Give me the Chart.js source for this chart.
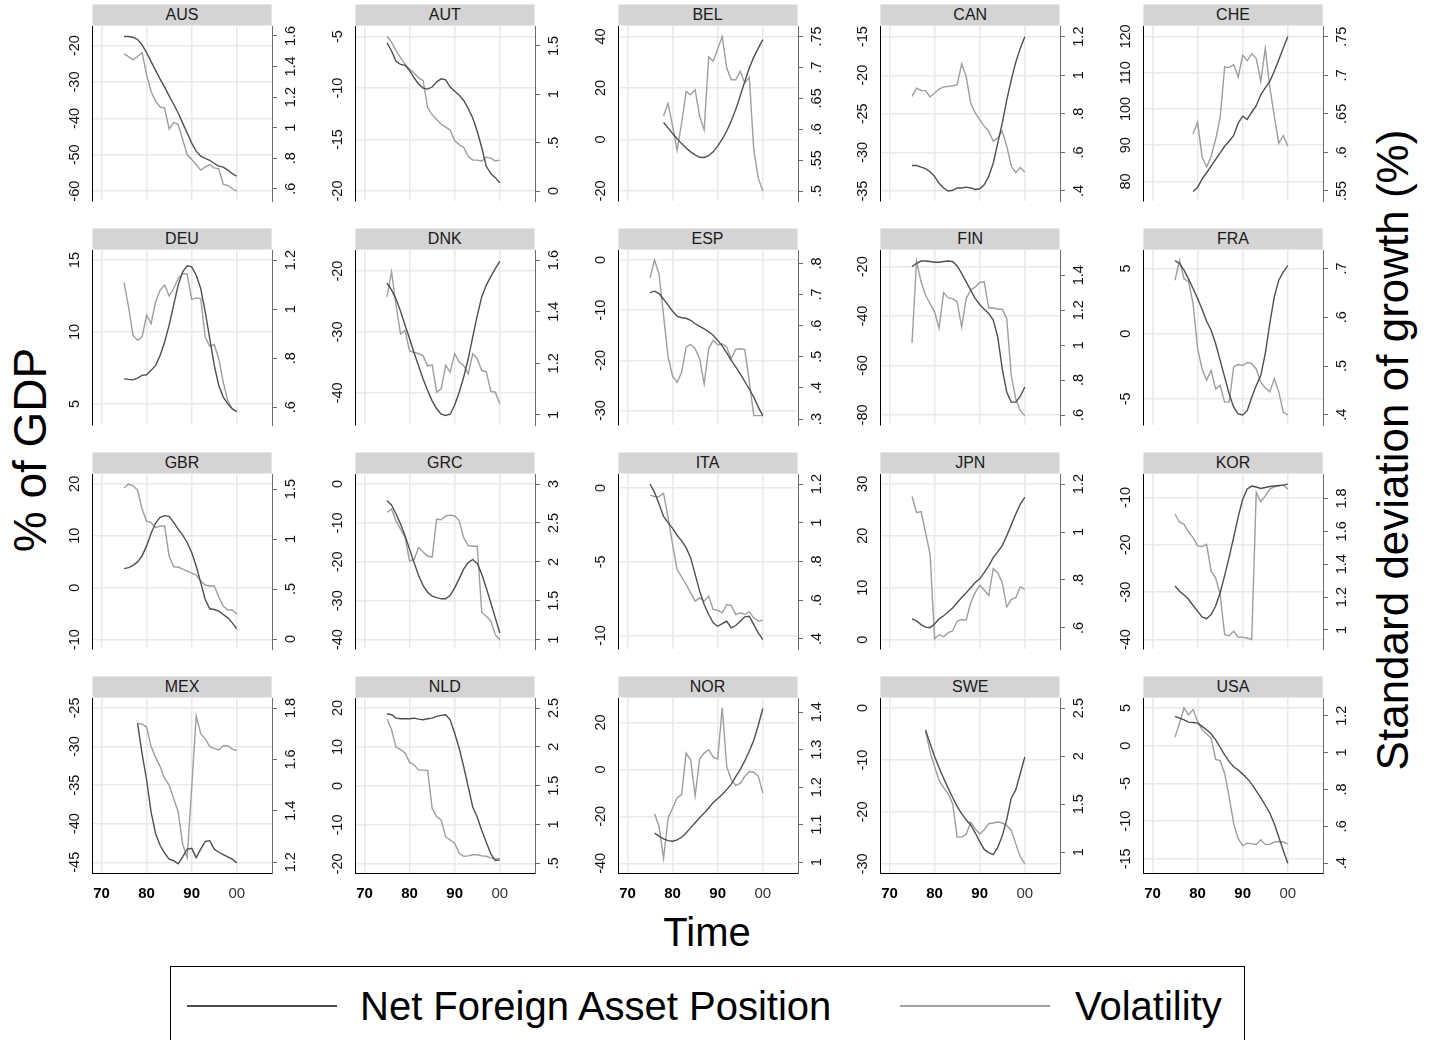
<!DOCTYPE html>
<html>
<head>
<meta charset="utf-8">
<title>Net foreign assets and volatility</title>
<script src="https://cdn.jsdelivr.net/npm/chart.js@4.4.1/dist/chart.umd.min.js"></script>
<style>
  body {
    margin: 0;
    width: 1436px;
    height: 1040px;
    position: relative;
    overflow: hidden;
    background: #fff;
    font-family: "Liberation Sans", Arial, sans-serif;
    color: #000;
  }
  .strip {
    position: absolute;
    height: 22px;
    box-sizing: border-box;
    background: #d4d4d4;
    border: 1px solid #e2ebeb;
    text-align: center;
    font-size: 16px;
    line-height: 20px;
    color: #1a1a1a;
  }
  .panel { position: absolute; }
  .axis-title {
    position: absolute;
    white-space: nowrap;
    line-height: 1;
  }
  .legend {
    position: absolute;
    left: 170px;
    top: 966px;
    width: 1075px;
    height: 90px;
    box-sizing: border-box;
    border: 1.5px solid #000;
  }
  .legend .sample {
    position: absolute;
    height: 2px;
    top: 38px;
  }
  .legend .label {
    position: absolute;
    top: 19px;
    font-size: 40px;
    line-height: 40px;
    white-space: nowrap;
  }
</style>
</head>
<body>

<div class="axis-title" style="left:30px; top:450px; font-size:46px; transform:translate(-50%,-50%) rotate(-90deg);">% of GDP</div>
<div class="axis-title" style="left:1393px; top:450px; font-size:44px; transform:translate(-50%,-50%) rotate(-90deg);">Standard deviation of growth (%)</div>
<div class="axis-title" style="left:707px; top:932px; font-size:40px; transform:translate(-50%,-50%);">Time</div>

<div class="legend">
  <div class="sample" style="left:16px; width:150px; background:#4f4f4f;"></div>
  <div class="label" style="left:189px;">Net Foreign Asset Position</div>
  <div class="sample" style="left:729px; width:150px; background:#a0a0a0;"></div>
  <div class="label" style="left:904px;">Volatility</div>
</div>

<script>
// ===== Datos por país (años start..2000) =====
const countries = ["AUS", "AUT", "BEL", "CAN", "CHE",
                   "DEU", "DNK", "ESP", "FIN", "FRA",
                   "GBR", "GRC", "ITA", "JPN", "KOR",
                   "MEX", "NLD", "NOR", "SWE", "USA"];

const startYear = [1975, 1975, 1978, 1975, 1979,
                   1975, 1975, 1975, 1975, 1975,
                   1975, 1975, 1975, 1975, 1975,
                   1978, 1975, 1976, 1978, 1975];

const AUS_nfa = [-17.5, -17.5, -17.7, -18.3, -19.8, -21.9, -24.4, -26.8, -29.2, -31.4, -33.8, -36.1, -38.5, -41.3, -44.0, -46.8, -49.0, -50.4, -51.0, -51.5, -52.4, -53.1, -53.4, -54.2, -55.2, -55.9];
const AUS_vol = [1.483, 1.465, 1.443, 1.465, 1.491, 1.346, 1.237, 1.172, 1.135, 1.128, 0.991, 1.035, 1.020, 0.922, 0.824, 0.791, 0.759, 0.722, 0.743, 0.759, 0.737, 0.730, 0.628, 0.622, 0.600, 0.585];

const AUT_nfa = [-5.6, -6.4, -7.4, -7.7, -7.8, -8.3, -9.0, -9.6, -10.0, -10.1, -9.9, -9.4, -9.1, -9.2, -9.9, -10.3, -10.7, -11.2, -12.0, -12.9, -14.2, -15.8, -17.6, -18.3, -18.7, -19.2];
const AUT_vol = [1.6, 1.54, 1.45, 1.38, 1.31, 1.26, 1.22, 1.17, 1.14, 0.86, 0.79, 0.74, 0.69, 0.66, 0.63, 0.52, 0.48, 0.45, 0.36, 0.32, 0.32, 0.31, 0.35, 0.34, 0.31, 0.32];

const BEL_nfa = [6.6, 4.5, 2.3, 0.3, -1.6, -3.3, -4.8, -6.0, -6.9, -7.0, -6.3, -4.8, -2.6, 0.1, 3.3, 7.2, 11.7, 17.0, 22.5, 27.8, 32.0, 35.5, 38.8];
const BEL_vol = [0.622, 0.642, 0.605, 0.566, 0.610, 0.661, 0.656, 0.664, 0.621, 0.599, 0.717, 0.710, 0.730, 0.750, 0.699, 0.680, 0.680, 0.694, 0.675, 0.684, 0.567, 0.521, 0.500];

const CAN_nfa = [-31.7, -31.7, -31.9, -32.1, -32.5, -33.1, -34.0, -34.6, -35.0, -34.9, -34.6, -34.6, -34.5, -34.6, -34.8, -34.7, -34.2, -33.1, -31.4, -28.8, -26.2, -23.2, -20.6, -18.3, -16.5, -15.0];
const CAN_vol = [0.890, 0.933, 0.921, 0.920, 0.887, 0.908, 0.928, 0.939, 0.942, 0.945, 0.951, 1.059, 0.994, 0.856, 0.804, 0.770, 0.736, 0.710, 0.658, 0.675, 0.710, 0.632, 0.529, 0.495, 0.521, 0.498];

const CHE_nfa = [77.2, 78.3, 80.7, 82.4, 84.2, 86.1, 87.9, 89.7, 91.1, 92.7, 96.1, 98.0, 97.1, 99.1, 100.9, 103.9, 105.8, 107.6, 110.4, 113.6, 116.8, 120.0];
const CHE_vol = [0.624, 0.639, 0.594, 0.581, 0.595, 0.617, 0.645, 0.711, 0.710, 0.714, 0.698, 0.726, 0.719, 0.728, 0.722, 0.692, 0.735, 0.685, 0.647, 0.612, 0.622, 0.608];

const DEU_nfa = [6.74, 6.70, 6.67, 6.79, 6.98, 7.02, 7.33, 7.67, 8.37, 9.30, 10.47, 11.86, 13.26, 14.19, 14.60, 14.53, 13.95, 13.02, 11.40, 9.53, 7.67, 6.28, 5.47, 5.00, 4.65, 4.47];
const DEU_vol = [1.109, 1.009, 0.893, 0.873, 0.886, 0.975, 0.941, 1.030, 1.077, 1.098, 1.054, 1.084, 1.125, 1.145, 1.143, 1.040, 1.046, 1.043, 0.886, 0.849, 0.855, 0.798, 0.702, 0.627, 0.593, 0.582];

const DNK_nfa = [-22.0, -23.1, -24.6, -26.6, -28.9, -31.1, -33.4, -35.6, -37.7, -39.6, -41.3, -42.6, -43.5, -43.7, -43.5, -42.0, -39.9, -37.4, -34.4, -30.8, -27.3, -24.2, -22.3, -20.9, -19.6, -18.4];
const DNK_vol = [1.457, 1.555, 1.424, 1.314, 1.327, 1.248, 1.242, 1.238, 1.229, 1.189, 1.194, 1.088, 1.101, 1.192, 1.166, 1.237, 1.205, 1.192, 1.159, 1.237, 1.218, 1.172, 1.168, 1.091, 1.088, 1.043];

const ESP_nfa = [-6.5, -6.2, -6.7, -7.8, -9.0, -10.2, -11.2, -11.5, -11.6, -12.0, -12.7, -13.2, -13.7, -14.3, -15.0, -16.0, -17.1, -18.5, -20.0, -21.3, -22.7, -24.2, -25.7, -27.3, -29.3, -31.0];
const ESP_vol = [0.754, 0.811, 0.765, 0.633, 0.500, 0.438, 0.418, 0.450, 0.531, 0.540, 0.526, 0.494, 0.413, 0.526, 0.553, 0.539, 0.541, 0.531, 0.494, 0.524, 0.526, 0.523, 0.420, 0.311, 0.311, 0.311];

const FIN_nfa = [-20.0, -18.6, -17.7, -17.7, -17.9, -18.2, -18.2, -17.9, -17.7, -17.9, -19.7, -22.7, -26.1, -29.5, -32.8, -35.3, -37.2, -38.9, -41.6, -48.4, -61.3, -70.8, -74.8, -74.8, -72.4, -68.7];
const FIN_vol = [1.013, 1.480, 1.362, 1.285, 1.237, 1.189, 1.098, 1.300, 1.270, 1.266, 1.247, 1.103, 1.266, 1.314, 1.333, 1.358, 1.362, 1.212, 1.212, 1.205, 1.205, 1.151, 0.826, 0.692, 0.625, 0.596];

const FRA_nfa = [5.59, 5.38, 4.87, 4.18, 3.46, 2.69, 1.87, 0.95, 0.26, -0.77, -2.05, -3.33, -4.62, -5.64, -6.15, -6.23, -5.90, -4.87, -3.97, -3.21, -1.54, 0.77, 2.82, 4.10, 4.74, 5.21];
const FRA_vol = [0.676, 0.717, 0.679, 0.673, 0.628, 0.536, 0.494, 0.471, 0.491, 0.453, 0.460, 0.426, 0.426, 0.498, 0.503, 0.501, 0.507, 0.505, 0.494, 0.467, 0.455, 0.447, 0.474, 0.447, 0.405, 0.400];

const GBR_nfa = [3.68, 3.87, 4.32, 4.97, 6.13, 8.06, 10.50, 12.45, 13.55, 13.87, 13.74, 12.58, 11.29, 10.13, 8.71, 6.77, 4.19, 0.97, -2.26, -4.06, -4.19, -4.52, -5.16, -5.81, -6.77, -7.94];
const GBR_vol = [1.51, 1.55, 1.533, 1.49, 1.30, 1.18, 1.165, 1.115, 1.13, 1.13, 0.83, 0.723, 0.72, 0.70, 0.68, 0.66, 0.64, 0.58, 0.54, 0.53, 0.53, 0.42, 0.33, 0.29, 0.29, 0.25];

const GRC_nfa = [-4.3, -5.4, -7.7, -10.3, -13.3, -16.8, -20.2, -23.5, -26.1, -27.8, -28.8, -29.2, -29.5, -29.5, -28.6, -26.7, -24.3, -21.8, -20.2, -19.4, -20.4, -23.2, -26.7, -30.5, -34.4, -38.3];
const GRC_vol = [2.634, 2.68, 2.527, 2.42, 2.312, 2.011, 2.032, 2.183, 2.127, 2.075, 2.06, 2.55, 2.54, 2.59, 2.60, 2.59, 2.53, 2.31, 2.21, 2.20, 2.20, 1.35, 1.30, 1.24, 1.065, 1.0];

const ITA_nfa = [0.27, -0.29, -1.09, -1.93, -2.34, -2.74, -3.20, -3.58, -4.04, -4.72, -5.85, -6.99, -7.89, -8.57, -9.14, -9.37, -9.19, -9.03, -9.48, -9.32, -9.03, -8.73, -8.69, -9.26, -9.82, -10.27];
const ITA_vol = [1.143, 1.136, 1.134, 1.153, 1.027, 0.889, 0.759, 0.720, 0.682, 0.638, 0.595, 0.612, 0.595, 0.621, 0.552, 0.547, 0.535, 0.578, 0.573, 0.526, 0.535, 0.526, 0.540, 0.509, 0.492, 0.497];

const JPN_nfa = [4.0, 3.6, 2.9, 2.4, 2.3, 3.0, 4.0, 4.6, 5.3, 6.1, 7.1, 8.1, 9.0, 10.0, 11.0, 11.7, 12.9, 14.2, 15.8, 16.9, 18.1, 20.0, 22.1, 24.2, 26.1, 27.4];
const JPN_vol = [1.148, 1.081, 1.085, 0.998, 0.907, 0.554, 0.572, 0.563, 0.580, 0.587, 0.628, 0.635, 0.632, 0.705, 0.747, 0.777, 0.758, 0.735, 0.847, 0.830, 0.789, 0.688, 0.719, 0.726, 0.772, 0.761];

const KOR_nfa = [-28.7, -29.8, -30.6, -31.5, -32.8, -34.0, -35.2, -35.6, -34.7, -32.9, -30.1, -26.5, -22.6, -18.4, -14.1, -10.4, -8.2, -7.6, -7.8, -8.1, -7.9, -7.7, -7.6, -7.5, -7.4, -7.2];
const KOR_vol = [1.704, 1.657, 1.643, 1.596, 1.562, 1.511, 1.507, 1.521, 1.358, 1.317, 1.216, 0.971, 0.965, 0.992, 0.957, 0.955, 0.951, 0.941, 1.837, 1.780, 1.816, 1.857, 1.871, 1.875, 1.883, 1.857];

const MEX_nfa = [-27.0, -30.9, -34.3, -38.5, -41.3, -42.8, -43.8, -44.6, -44.8, -45.2, -44.3, -43.3, -43.2, -44.4, -43.3, -42.3, -42.2, -43.3, -43.7, -44.0, -44.3, -44.6, -45.1];
const MEX_vol = [1.741, 1.737, 1.726, 1.650, 1.608, 1.572, 1.526, 1.500, 1.448, 1.396, 1.270, 1.218, 1.490, 1.770, 1.700, 1.680, 1.650, 1.643, 1.637, 1.653, 1.653, 1.640, 1.634];

const NLD_nfa = [18.54, 18.28, 17.42, 17.25, 17.25, 17.25, 17.42, 17.16, 16.99, 17.25, 17.42, 17.85, 18.11, 18.28, 16.99, 13.55, 9.68, 4.95, -0.21, -5.37, -7.95, -11.39, -14.40, -17.41, -19.13, -18.96];
const NLD_vol = [2.358, 2.22, 1.997, 1.963, 1.92, 1.80, 1.77, 1.70, 1.70, 1.696, 1.21, 1.10, 1.06, 0.84, 0.80, 0.76, 0.63, 0.59, 0.595, 0.61, 0.61, 0.595, 0.59, 0.57, 0.556, 0.56];

const NOR_nfa = [-27.1, -28.4, -29.6, -30.3, -30.6, -30.0, -28.9, -27.1, -24.9, -22.7, -20.6, -18.6, -16.4, -14.1, -12.4, -10.7, -8.6, -6.3, -3.1, 0.0, 3.6, 7.7, 12.4, 18.8, 26.0];
const NOR_vol = [1.129, 1.095, 1.010, 1.117, 1.144, 1.171, 1.180, 1.291, 1.273, 1.177, 1.275, 1.291, 1.300, 1.280, 1.275, 1.412, 1.255, 1.220, 1.205, 1.210, 1.229, 1.242, 1.240, 1.229, 1.184];

const SWE_nfa = [-4.2, -6.8, -9.3, -11.5, -13.5, -15.4, -17.2, -18.9, -20.3, -21.5, -22.5, -24.0, -25.7, -27.2, -27.8, -28.2, -26.8, -24.6, -21.4, -17.3, -15.7, -12.6, -9.4];
const SWE_vol = [2.256, 2.047, 1.890, 1.750, 1.673, 1.610, 1.506, 1.157, 1.157, 1.185, 1.314, 1.244, 1.190, 1.234, 1.297, 1.304, 1.314, 1.304, 1.279, 1.227, 1.087, 0.950, 0.878];

const USA_nfa = [3.89, 3.67, 3.44, 3.13, 3.09, 3.00, 2.56, 2.11, 1.58, 0.78, -0.20, -1.22, -2.11, -2.78, -3.22, -3.76, -4.33, -5.09, -5.98, -6.87, -7.89, -8.91, -10.33, -12.11, -13.89, -15.58];
const USA_vol = [1.084, 1.160, 1.242, 1.205, 1.233, 1.169, 1.124, 1.102, 1.078, 0.963, 0.956, 0.887, 0.760, 0.615, 0.533, 0.496, 0.509, 0.505, 0.502, 0.527, 0.502, 0.502, 0.515, 0.518, 0.515, 0.505];

const nfaSeries = [AUS_nfa, AUT_nfa, BEL_nfa, CAN_nfa, CHE_nfa, DEU_nfa, DNK_nfa, ESP_nfa, FIN_nfa, FRA_nfa,
                   GBR_nfa, GRC_nfa, ITA_nfa, JPN_nfa, KOR_nfa, MEX_nfa, NLD_nfa, NOR_nfa, SWE_nfa, USA_nfa];
const volSeries = [AUS_vol, AUT_vol, BEL_vol, CAN_vol, CHE_vol, DEU_vol, DNK_vol, ESP_vol, FIN_vol, FRA_vol,
                   GBR_vol, GRC_vol, ITA_vol, JPN_vol, KOR_vol, MEX_vol, NLD_vol, NOR_vol, SWE_vol, USA_vol];

// ===== Ejes: marcas y rangos =====
const leftTicks = [
  [-60, -50, -40, -30, -20], [-20, -15, -10, -5], [-20, 0, 20, 40], [-35, -30, -25, -20, -15], [80, 90, 100, 110, 120],
  [5, 10, 15], [-40, -30, -20], [-30, -20, -10, 0], [-80, -60, -40, -20], [-5, 0, 5],
  [-10, 0, 10, 20], [-40, -30, -20, -10, 0], [-10, -5, 0], [0, 10, 20, 30], [-40, -30, -20, -10],
  [-45, -40, -35, -30, -25], [-20, -10, 0, 10, 20], [-40, -20, 0, 20], [-30, -20, -10, 0], [-15, -10, -5, 0, 5]
];
const leftRange = [
  [-62.7, -14.6], [-20.97, -3.97], [-23.9, 44.1], [-36.29, -13.62], [74.6, 122.9],
  [3.53, 15.7], [-45.27, -16.54], [-32.87, 2.0], [-84.06, -13.23], [-7.0, 6.41],
  [-11.8, 21.9], [-42.4, 2.58], [-10.91, 0.95], [-1.81, 31.9], [-41.98, -5.06],
  [-46.39, -23.7], [-22.32, 22.58], [-44.1, 30.4], [-31.74, 1.94], [-16.87, 6.33]
];
const rightTicks = [
  [0.6, 0.8, 1, 1.2, 1.4, 1.6], [0, 0.5, 1, 1.5], [0.5, 0.55, 0.6, 0.65, 0.7, 0.75], [0.4, 0.6, 0.8, 1, 1.2], [0.55, 0.6, 0.65, 0.7, 0.75],
  [0.6, 0.8, 1, 1.2], [1, 1.2, 1.4, 1.6], [0.3, 0.4, 0.5, 0.6, 0.7, 0.8], [0.6, 0.8, 1, 1.2, 1.4], [0.4, 0.5, 0.6, 0.7],
  [0, 0.5, 1, 1.5], [1, 1.5, 2, 2.5, 3], [0.4, 0.6, 0.8, 1, 1.2], [0.6, 0.8, 1, 1.2], [1, 1.2, 1.4, 1.6, 1.8],
  [1.2, 1.4, 1.6, 1.8], [0.5, 1, 1.5, 2, 2.5], [1, 1.1, 1.2, 1.3, 1.4], [1, 1.5, 2, 2.5], [0.4, 0.6, 0.8, 1, 1.2]
];
const rightRange = [
  [0.52, 1.665], [-0.103, 1.706], [0.484, 0.767], [0.348, 1.255], [0.537, 0.764],
  [0.528, 1.241], [0.961, 1.639], [0.281, 0.843], [0.543, 1.544], [0.379, 0.738],
  [-0.10, 1.651], [0.88, 3.129], [0.348, 1.252], [0.512, 1.242], [0.884, 1.949],
  [1.158, 1.839], [0.375, 2.629], [0.971, 1.438], [0.784, 2.605], [0.347, 1.296]
];
const yearTicks = [1970, 1980, 1990, 2000];
const yearLabels = ["70", "80", "90", "00"];
const yearRange = [1967.9, 2007.8];

// ===== Geometría de la rejilla de paneles =====
const COL0 = 92, COL_STEP = 262.75;
const ROW0 = 26, ROW_STEP = 224;
const PW = 180, PH = 175;
const LW = 48, RW = 46, PAD = 20, XH = 34;
const FONT = "'Liberation Sans', Arial, sans-serif";
const TICK_SIZE = 14.5;

const measure = document.createElement("canvas").getContext("2d");
measure.font = `${TICK_SIZE}px ${FONT}`;

// 0.5 -> ".5", -0.5 -> "-.5"
function stataLabel(v) {
  const s = String(Math.round(v * 1000) / 1000);
  return s.replace(/^0\./, ".").replace(/^-0\./, "-.");
}

function widest(values) {
  return Math.max(...values.map(v => measure.measureText(stataLabel(v)).width));
}

countries.forEach((code, i) => {
  const col = i % 5;
  const row = Math.floor(i / 5);
  const bottomRow = row === 3;
  const plotLeft = COL0 + col * COL_STEP;
  const plotTop = ROW0 + row * ROW_STEP;

  // Cabecera gris con el código del país
  const strip = document.createElement("div");
  strip.className = "strip";
  strip.style.left = plotLeft + "px";
  strip.style.top = (plotTop - 22) + "px";
  strip.style.width = PW + "px";
  strip.textContent = code;
  document.body.appendChild(strip);

  const w = LW + PW + RW;
  const h = PAD + PH + (bottomRow ? XH : PAD);
  const box = document.createElement("div");
  box.className = "panel";
  box.style.left = (plotLeft - LW) + "px";
  box.style.top = (plotTop - PAD) + "px";
  const cv = document.createElement("canvas");
  cv.width = w;
  cv.height = h;
  cv.style.width = w + "px";
  cv.style.height = h + "px";
  box.appendChild(cv);
  document.body.appendChild(box);

  const start = startYear[i];
  const toPoints = arr => arr.map((v, k) => ({ x: start + k, y: v }));

  // etiquetas giradas centradas a distancia fija del eje
  const leftPad = 17 - widest(leftTicks[i]) / 2;
  const rightPad = 18.5 - 5 - widest(rightTicks[i]) / 2;

  new Chart(cv, {
    type: "line",
    data: {
      datasets: [
        {
          label: "Net Foreign Asset Position",
          data: toPoints(nfaSeries[i]),
          yAxisID: "y",
          borderColor: "#4f4f4f",
          borderWidth: 1.4,
        },
        {
          label: "Volatility",
          data: toPoints(volSeries[i]),
          yAxisID: "y1",
          borderColor: "#9e9e9e",
          borderWidth: 1.4,
        },
      ],
    },
    options: {
      responsive: false,
      animation: false,
      devicePixelRatio: 1,
      layout: { padding: { top: PAD, bottom: bottomRow ? 0 : PAD, left: 0, right: 0 } },
      elements: { point: { radius: 0 }, line: { tension: 0 } },
      plugins: { legend: { display: false }, tooltip: { enabled: false } },
      scales: {
        x: {
          type: "linear",
          min: yearRange[0],
          max: yearRange[1],
          afterBuildTicks: s => { s.ticks = yearTicks.map(v => ({ value: v })); },
          afterFit: s => { s.height = bottomRow ? XH : 0; },
          grid: { color: "#e9e9e9", lineWidth: 1.5, drawTicks: false },
          border: { display: bottomRow, color: "#000", width: 1 },
          ticks: {
            display: bottomRow,
            autoSkip: false,
            maxRotation: 0,
            padding: 12,
            callback: v => yearLabels[yearTicks.indexOf(v)],
            color: ctx => (ctx.tick && ctx.tick.value === 2000 ? "#333" : "#000"),
            font: ctx => ({
              family: FONT,
              size: 15,
              weight: ctx.tick && ctx.tick.value === 2000 ? "normal" : "bold",
            }),
          },
        },
        y: {
          position: "left",
          min: leftRange[i][0],
          max: leftRange[i][1],
          afterBuildTicks: s => { s.ticks = leftTicks[i].map(v => ({ value: v })); },
          afterFit: s => { s.width = LW; },
          grid: { color: "#e9e9e9", lineWidth: 1.5, drawTicks: false },
          border: { color: "#000", width: 1 },
          ticks: {
            autoSkip: false,
            minRotation: 90,
            maxRotation: 90,
            crossAlign: "center",
            padding: leftPad,
            callback: v => stataLabel(v),
            color: "#111",
            font: { family: FONT, size: TICK_SIZE },
          },
        },
        y1: {
          position: "right",
          min: rightRange[i][0],
          max: rightRange[i][1],
          afterBuildTicks: s => { s.ticks = rightTicks[i].map(v => ({ value: v })); },
          afterFit: s => { s.width = RW; },
          grid: { drawOnChartArea: false, drawTicks: true, tickLength: 5, color: "#6a6a6a", lineWidth: 1 },
          border: { color: "#6a6a6a", width: 1 },
          ticks: {
            autoSkip: false,
            minRotation: 90,
            maxRotation: 90,
            crossAlign: "center",
            padding: rightPad,
            callback: v => stataLabel(v),
            color: "#111",
            font: { family: FONT, size: TICK_SIZE },
          },
        },
      },
    },
  });
});
</script>
</body>
</html>
